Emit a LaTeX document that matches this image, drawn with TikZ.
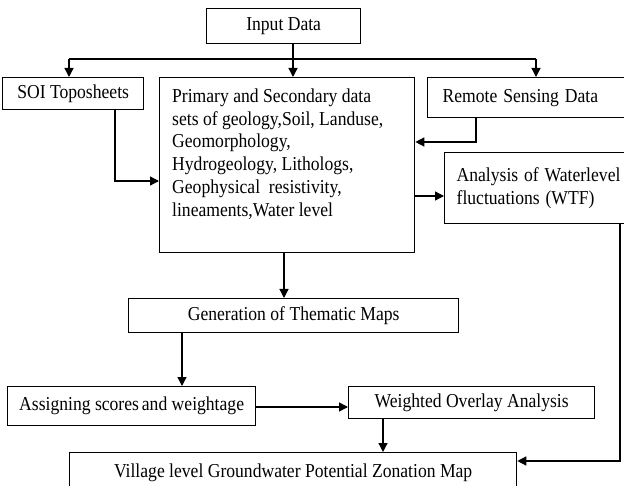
\documentclass[tikz,border=0pt]{standalone}
\usepackage{graphicx}
\usepackage{fontspec}
\setmainfont{Liberation Serif}
\usetikzlibrary{arrows.meta}
\newcommand{\vs}[1]{\scalebox{1}[1.12]{#1}}
\newcommand{\ml}[1]{\vs{\begin{tabular}{@{}l@{}}#1\end{tabular}}}
\begin{document}
\begin{tikzpicture}[x=1pt,y=-1pt,
  every node/.style={font=\fontsize{17.6}{20.4}\selectfont},
  box/.style={draw,line width=1.3pt,inner sep=0pt,anchor=north west},
  arr/.style={line width=1.3pt,-{Triangle[length=9pt,width=9pt]}},
  ln/.style={line width=1.3pt}]
\useasboundingbox[fill=white] (0,0) rectangle (624,486);
\node[box,minimum width=154pt,minimum height=35pt] (input) at (206,8) {\vs{Input Data}};
\node[box,minimum width=141pt,minimum height=32pt] (soi) at (2,77) {\vs{SOI Toposheets}};
\node[box,minimum width=255pt,minimum height=175pt] (primbox) at (159,77) {};
\node[anchor=north west,inner sep=0pt] (primtext) at (172,86) {\ml{Primary and Secondary data\\sets of geology,Soil, Landuse,\\Geomorphology,\\Hydrogeology, Lithologs,\\Geophysical\ \ resistivity,\\lineaments,Water level}};
\node[box,minimum height=40pt,text width=175pt,inner xsep=15pt,align=left] (remote) at (427,77) {\vs{Remote Sensing Data}};
\node[box,minimum height=71pt,text width=170pt,inner xsep=12pt,align=left] (analysis) at (444,152) {\ml{Analysis of Waterlevel\\fluctuations (WTF)}};
\node[box,minimum width=330pt,minimum height=34pt] (gen) at (128,298) {\vs{Generation of Thematic Maps}};
\node[box,minimum width=248pt,minimum height=39pt] (assign) at (7,386) {\vs{Assigning scores\,and weightage}};
\node[box,minimum width=246pt,minimum height=32pt] (weighted) at (348,386) {\vs{Weighted Overlay Analysis}};
\node[box,minimum width=447pt,minimum height=40pt] (village) at (69,452) {\vs{Village level Groundwater Potential Zonation Map}};
% junctions
\coordinate (j) at (293,59);
\coordinate (jl) at (69,59);
\coordinate (jr) at (536,59);
\coordinate (s1) at (115,181);
\coordinate (r1) at (476,142);
\coordinate (a1) at (414,196);
\coordinate (g1) at (284,0);
\coordinate (g2) at (182,0);
\coordinate (w1) at (0,407);
\coordinate (w2) at (383,0);
\coordinate (v1) at (620,461);
\draw[arr] (input.south -| j) -- (primbox.north -| j);
\draw[ln] (jl) -- (jr);
\draw[arr] (jl) -- (soi.north -| jl);
\draw[arr] (jr) -- (remote.north -| jr);
\draw[arr] (soi.south -| s1) -- (s1) -- (primbox.west |- s1);
\draw[arr] (remote.south -| r1) -- (r1) -- (primbox.east |- r1);
\draw[arr] (primbox.east |- a1) -- (analysis.west |- a1);
\draw[arr] (primbox.south -| g1) -- (gen.north -| g1);
\draw[arr] (gen.south -| g2) -- (assign.north -| g2);
\draw[arr] (assign.east |- w1) -- (weighted.west |- w1);
\draw[arr] (weighted.south -| w2) -- (village.north -| w2);
\draw[arr] (analysis.south -| v1) -- (v1) -- (village.east |- v1);
\end{tikzpicture}
\end{document}
